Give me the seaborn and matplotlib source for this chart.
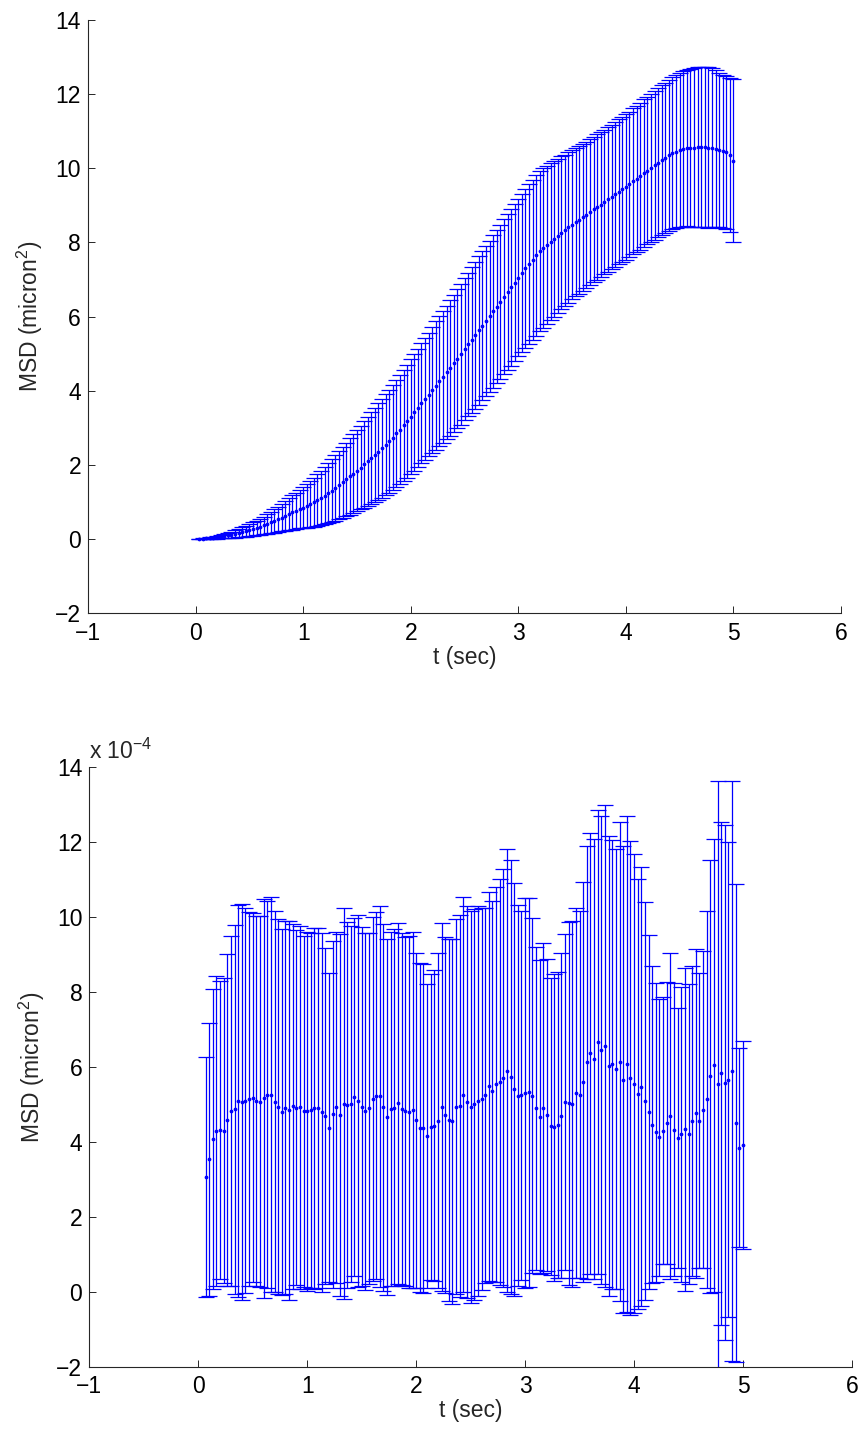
import numpy as np
import matplotlib
matplotlib.use("Agg")
import matplotlib.pyplot as plt
import seaborn as sns

# ---------------- data ----------------
FPS = 30.0
lag_top = np.arange(1, 151)       # frame lags of the upper panel
lag_bot = np.arange(2, 151)       # frame lags of the lower panel

top_mean = [
    0.00, 0.01, 0.02, 0.03, 0.04, 0.05, 0.07, 0.08, 0.10, 0.12,
    0.14, 0.16, 0.19, 0.21, 0.24, 0.27, 0.30, 0.33, 0.37, 0.41,
    0.45, 0.49, 0.54, 0.58, 0.63, 0.67, 0.72, 0.76, 0.81, 0.85,
    0.90, 0.94, 0.99, 1.05, 1.11, 1.17, 1.24, 1.31, 1.38, 1.46,
    1.53, 1.61, 1.69, 1.77, 1.85, 1.93, 2.02, 2.10, 2.19, 2.27,
    2.36, 2.45, 2.55, 2.64, 2.74, 2.85, 2.95, 3.07, 3.18, 3.30,
    3.42, 3.54, 3.66, 3.78, 3.90, 4.02, 4.14, 4.26, 4.38, 4.50,
    4.62, 4.74, 4.87, 4.99, 5.12, 5.25, 5.37, 5.50, 5.63, 5.75,
    5.88, 6.01, 6.14, 6.27, 6.40, 6.53, 6.66, 6.79, 6.92, 7.05,
    7.17, 7.30, 7.42, 7.53, 7.65, 7.76, 7.85, 7.93, 8.02, 8.10,
    8.18, 8.26, 8.33, 8.41, 8.48, 8.55, 8.61, 8.68, 8.75, 8.82,
    8.89, 8.96, 9.02, 9.09, 9.16, 9.23, 9.30, 9.37, 9.43, 9.50,
    9.57, 9.65, 9.72, 9.79, 9.87, 9.94, 10.01, 10.08, 10.15, 10.22,
    10.28, 10.35, 10.40, 10.45, 10.50, 10.53, 10.55, 10.56, 10.56, 10.57,
    10.57, 10.57, 10.56, 10.56, 10.53, 10.50, 10.46, 10.43, 10.36, 10.21,
]
top_err = [
    0.00, 0.01, 0.02, 0.03, 0.03, 0.04, 0.05, 0.06, 0.07, 0.08,
    0.10, 0.11, 0.13, 0.14, 0.16, 0.18, 0.20, 0.22, 0.24, 0.27,
    0.29, 0.32, 0.34, 0.37, 0.40, 0.43, 0.46, 0.49, 0.52, 0.55,
    0.59, 0.62, 0.66, 0.70, 0.73, 0.77, 0.81, 0.84, 0.88, 0.92,
    0.95, 0.99, 1.03, 1.06, 1.10, 1.13, 1.17, 1.20, 1.23, 1.27,
    1.30, 1.33, 1.36, 1.39, 1.42, 1.44, 1.47, 1.50, 1.52, 1.55,
    1.57, 1.60, 1.62, 1.65, 1.67, 1.70, 1.73, 1.75, 1.78, 1.80,
    1.83, 1.85, 1.87, 1.90, 1.92, 1.94, 1.96, 1.98, 2.00, 2.01,
    2.03, 2.04, 2.06, 2.07, 2.08, 2.09, 2.10, 2.11, 2.11, 2.12,
    2.13, 2.14, 2.15, 2.15, 2.16, 2.16, 2.15, 2.13, 2.12, 2.10,
    2.08, 2.06, 2.04, 2.03, 2.01, 2.00, 1.99, 1.98, 1.97, 1.97,
    1.96, 1.96, 1.95, 1.95, 1.95, 1.95, 1.95, 1.95, 1.96, 1.96,
    1.96, 1.97, 1.97, 1.98, 1.99, 1.99, 2.00, 2.01, 2.01, 2.02,
    2.03, 2.04, 2.05, 2.07, 2.08, 2.10, 2.11, 2.13, 2.14, 2.15,
    2.16, 2.16, 2.16, 2.15, 2.12, 2.08, 2.06, 2.06, 2.08, 2.20,
]

# lower panel values, in units of 1e-4 micron^2
bot_mean = [
    3.07, 3.53, 4.08, 4.29, 4.31, 4.30, 4.58, 4.82, 4.87, 5.09,
    5.07, 5.10, 5.14, 5.18, 5.08, 5.07, 5.16, 5.26, 5.26, 5.07,
    4.94, 4.79, 4.91, 4.84, 4.95, 4.91, 4.92, 4.81, 4.82, 4.84,
    4.89, 4.90, 4.79, 4.68, 4.38, 4.74, 4.92, 4.71, 5.02, 4.98,
    5.00, 5.19, 5.09, 4.94, 4.81, 4.89, 5.14, 5.23, 5.21, 4.92,
    4.66, 4.88, 4.91, 5.03, 4.87, 4.81, 4.79, 4.85, 4.57, 4.38,
    4.36, 4.15, 4.39, 4.43, 4.56, 4.93, 4.71, 4.59, 4.55, 4.94,
    4.96, 5.25, 5.06, 4.93, 5.00, 5.08, 5.15, 5.24, 5.48, 5.35,
    5.54, 5.59, 5.70, 5.90, 5.72, 5.40, 5.23, 5.24, 5.31, 5.32,
    5.23, 4.90, 4.66, 4.91, 4.71, 4.41, 4.39, 4.44, 4.70, 5.06,
    5.03, 5.01, 5.30, 5.26, 5.59, 6.12, 6.36, 6.22, 6.65, 6.44,
    6.55, 6.02, 6.07, 5.95, 6.13, 5.66, 6.08, 5.71, 5.55, 5.28,
    5.47, 5.08, 4.80, 4.46, 4.25, 4.12, 4.30, 4.50, 4.69, 4.32,
    4.11, 4.20, 4.33, 4.21, 4.56, 4.76, 4.56, 4.85, 5.13, 5.75,
    6.04, 5.54, 5.83, 5.58, 5.66, 5.88, 4.51, 3.84, 3.92,
]
bot_err = [
    3.20, 3.64, 4.00, 4.14, 3.97, 4.06, 4.43, 4.67, 4.92, 5.22,
    5.28, 5.14, 4.98, 4.92, 4.94, 4.95, 5.33, 5.17, 5.27, 5.08,
    5.00, 4.88, 4.97, 5.05, 4.87, 4.73, 4.84, 4.68, 4.79, 4.73,
    4.82, 4.80, 4.79, 4.48, 4.13, 4.63, 4.69, 4.83, 5.22, 4.88,
    4.75, 4.78, 4.97, 4.80, 4.76, 4.68, 4.86, 4.90, 5.08, 4.90,
    4.75, 4.73, 4.76, 4.82, 4.69, 4.66, 4.70, 4.75, 4.48, 4.39,
    4.39, 4.05, 4.09, 4.15, 4.47, 4.90, 4.75, 4.83, 4.87, 5.00,
    5.10, 5.27, 5.24, 5.22, 5.21, 5.20, 5.10, 5.00, 5.19, 5.08,
    5.27, 5.42, 5.58, 5.91, 5.79, 5.51, 5.08, 4.92, 5.20, 5.19,
    4.74, 4.31, 4.19, 4.40, 4.16, 3.97, 4.10, 4.08, 4.34, 4.48,
    4.84, 4.89, 4.94, 4.90, 5.33, 5.77, 5.89, 5.87, 6.19, 6.24,
    6.43, 6.14, 5.99, 5.87, 6.39, 6.23, 6.62, 6.32, 6.12, 5.74,
    5.86, 5.31, 4.72, 4.23, 3.98, 3.69, 3.56, 3.77, 4.35, 3.91,
    3.47, 3.94, 4.31, 4.00, 4.14, 4.39, 3.94, 4.23, 5.02, 5.78,
    6.05, 8.08, 6.71, 6.87, 6.33, 7.74, 6.38, 2.65, 2.77,
]

x_ticks = [-1, 0, 1, 2, 3, 4, 5, 6]
y_ticks = [-2, 0, 2, 4, 6, 8, 10, 12, 14]
x_label = "t (sec)"
y_label = "MSD (micron$^2$)"
scale_label = "x 10$^{-4}$"

# ---------------- style ----------------
sns.set_theme(style="ticks")
plt.rcParams["font.family"] = ["Liberation Sans", "DejaVu Sans"]
plt.rcParams["mathtext.fontset"] = "custom"
plt.rcParams["mathtext.rm"] = "Liberation Sans"
plt.rcParams["mathtext.it"] = "Liberation Sans"
plt.rcParams.update({
    "xtick.direction": "in",
    "ytick.direction": "in",
    "axes.edgecolor": "#262626",
    "axes.linewidth": 0.8,
    "xtick.color": "#262626",
    "ytick.color": "#262626",
    "xtick.labelcolor": "black",
    "ytick.labelcolor": "black",
})

FS = 16.5
fig = plt.figure(figsize=(8.61, 14.35), dpi=100)
ax1 = fig.add_axes([0.1022, 0.5726, 0.8746, 0.4135])
ax2 = fig.add_axes([0.1037, 0.0476, 0.8858, 0.4179])

panels = [
    (ax1, np.asarray(lag_top) / FPS, top_mean, top_err),
    (ax2, np.asarray(lag_bot) / FPS, bot_mean, bot_err),
]
for ax, t, m, e in panels:
    ax.errorbar(t, m, yerr=e, fmt=".", color="#0000ff", ecolor="#0000ff",
                elinewidth=0.9, capsize=5.5, capthick=0.9, markersize=3.4,
                linestyle="none")
    ax.set_xlim(-1, 6)
    ax.set_ylim(-2, 14)
    ax.set_xticks(x_ticks)
    ax.set_yticks(y_ticks)
    ax.tick_params(axis="both", length=5, width=0.7, labelsize=FS)
    ax.tick_params(axis="x", pad=6)
    ax.tick_params(axis="y", pad=5)
    ax.spines["top"].set_visible(False)
    ax.spines["right"].set_visible(False)
    ax.set_xlabel(x_label, fontsize=FS, labelpad=1)
    ax.set_ylabel(y_label, fontsize=FS, labelpad=7)
    ax.set_facecolor("white")

ax2.text(0.0, 1.006, scale_label, transform=ax2.transAxes, fontsize=FS,
         ha="left", va="bottom")

fig.savefig("out.png", dpi=100, facecolor="white")
